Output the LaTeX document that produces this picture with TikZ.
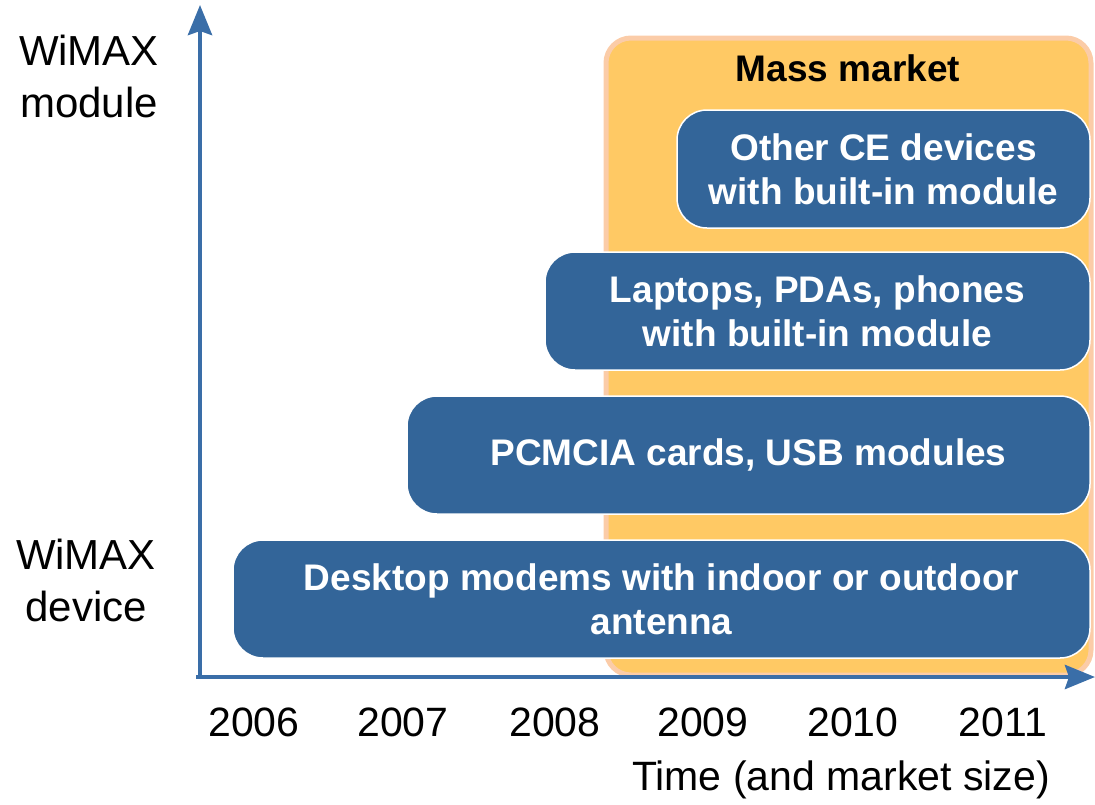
\documentclass[tikz,border=0pt]{standalone}
\usepackage{fontspec}
\setmainfont{Liberation Sans}
\usetikzlibrary{arrows.meta}
\definecolor{boxblue}{RGB}{51,101,153}
\definecolor{axisblue}{RGB}{58,110,168}
\definecolor{mass}{RGB}{255,201,100}
\definecolor{massedge}{RGB}{251,204,168}
\tikzset{
  blkbox/.style={draw=white, line width=1.5pt, fill=boxblue, rounded corners=30pt,
    text=white, align=center, inner sep=0pt,
    font=\fontsize{37}{44}\selectfont\bfseries},
  axislbl/.style={font=\fontsize{41}{52}\selectfont, align=center, anchor=base, inner sep=0pt},
  sidelbl/.style={axislbl, font=\fontsize{42}{52}\selectfont},
  axisline/.style={draw=axisblue, line width=4.5pt,
    -{Stealth[length=30pt,width=24pt,inset=4pt]}}
}
\begin{document}
\begin{tikzpicture}[x=1pt,y=-1pt]
\useasboundingbox (0,0) rectangle (1095,804);
% mass market region
\draw[draw=massedge, line width=5pt, fill=mass, rounded corners=25pt] (606,38) rectangle (1091,675);
\node[font=\fontsize{37}{44}\selectfont\bfseries, inner sep=0pt] (mass) at (848,68) {Mass market};
% boxes
\node[blkbox, minimum width=413pt, minimum height=118pt] (ce) at (883.5,169) {Other CE devices\\with built-in module};
\node[blkbox, minimum width=545pt, minimum height=118pt] (lap) at (817.5,311) {Laptops, PDAs, phones\\with built-in module};
\node[blkbox, minimum width=683pt, minimum height=118pt] (pcm) at (748.5,455) {PCMCIA cards, USB modules};
\node[blkbox, minimum width=857pt, minimum height=118pt] (desk) at (661.5,599) {Desktop modems with indoor or outdoor\\antenna};
% axes
\coordinate (o) at (200,677);
\coordinate (ytip) at (200,5);
\coordinate (xtip) at (1095,677);
\draw[axisline] (o) -- (ytip);
\draw[axisline] ([xshift=-4pt]o) -- (xtip);
% labels
\node[sidelbl] (mod) at (89,117) {WiMAX\\module};
\node[sidelbl] (dev) at (86,621) {WiMAX\\device};
\node[axislbl] (y6) at (254,736) {2006};
\node[axislbl] (y7) at (403,736) {2007};
\node[axislbl] (y8) at (555,736) {2008};
\node[axislbl] (y9) at (703,736) {2009};
\node[axislbl] (y10) at (853,736) {2010};
\node[axislbl] (y11) at (1003,736) {2011};
\node[axislbl] (time) at (841,790) {Time (and market size)};
\end{tikzpicture}
\end{document}
